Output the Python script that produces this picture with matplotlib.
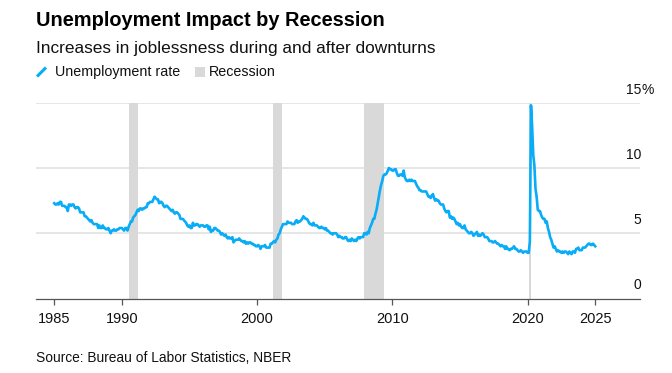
import numpy as np
import matplotlib
matplotlib.use('Agg')
import matplotlib.pyplot as plt
from matplotlib.lines import Line2D
from matplotlib.patches import Rectangle
import matplotlib.transforms as mtransforms

plt.rcParams['font.family'] = ['Liberation Sans', 'DejaVu Sans']

# Monthly unemployment rate (%), Jan 1985 .. Jan 2025
rate_1985_1994 = [
    7.3, 7.2, 7.2, 7.3, 7.2, 7.4, 7.4, 7.1, 7.1, 7.1, 7.0, 7.0,
    6.7, 7.2, 7.2, 7.1, 7.2, 7.2, 7.0, 6.9, 7.0, 7.0, 6.9, 6.6,
    6.6, 6.6, 6.6, 6.3, 6.3, 6.2, 6.1, 6.0, 5.9, 6.0, 5.8, 5.7,
    5.7, 5.7, 5.7, 5.4, 5.6, 5.4, 5.4, 5.6, 5.4, 5.4, 5.3, 5.3,
    5.4, 5.2, 5.0, 5.2, 5.2, 5.3, 5.2, 5.2, 5.3, 5.3, 5.4, 5.4,
    5.4, 5.3, 5.2, 5.4, 5.4, 5.2, 5.5, 5.7, 5.9, 5.9, 6.2, 6.3,
    6.4, 6.6, 6.8, 6.7, 6.9, 6.9, 6.8, 6.9, 6.9, 7.0, 7.0, 7.3,
    7.3, 7.4, 7.4, 7.4, 7.6, 7.8, 7.7, 7.6, 7.6, 7.3, 7.4, 7.4,
    7.3, 7.1, 7.0, 7.1, 7.1, 7.0, 6.9, 6.8, 6.7, 6.8, 6.6, 6.5,
    6.6, 6.6, 6.5, 6.4, 6.1, 6.1, 6.1, 6.0, 5.9, 5.8, 5.6, 5.5,
]
rate_1995_2004 = [
    5.6, 5.4, 5.4, 5.8, 5.6, 5.6, 5.7, 5.7, 5.6, 5.5, 5.6, 5.6,
    5.6, 5.5, 5.5, 5.6, 5.6, 5.3, 5.5, 5.1, 5.2, 5.2, 5.4, 5.4,
    5.3, 5.2, 5.2, 5.1, 4.9, 5.0, 4.9, 4.8, 4.9, 4.7, 4.6, 4.7,
    4.6, 4.6, 4.7, 4.3, 4.4, 4.5, 4.5, 4.5, 4.6, 4.5, 4.4, 4.4,
    4.3, 4.4, 4.2, 4.3, 4.2, 4.3, 4.3, 4.2, 4.2, 4.1, 4.1, 4.0,
    4.0, 4.1, 4.0, 3.8, 4.0, 4.0, 4.0, 4.1, 3.9, 3.9, 3.9, 3.9,
    4.2, 4.2, 4.3, 4.4, 4.3, 4.5, 4.6, 4.9, 5.0, 5.3, 5.5, 5.7,
    5.7, 5.7, 5.7, 5.9, 5.8, 5.8, 5.8, 5.7, 5.7, 5.7, 5.9, 6.0,
    5.8, 5.9, 5.9, 6.0, 6.1, 6.3, 6.2, 6.1, 6.1, 6.0, 5.8, 5.7,
    5.7, 5.6, 5.8, 5.6, 5.6, 5.6, 5.5, 5.4, 5.4, 5.5, 5.4, 5.4,
]
rate_2005_2014 = [
    5.3, 5.4, 5.2, 5.2, 5.1, 5.0, 5.0, 4.9, 5.0, 5.0, 5.0, 4.9,
    4.7, 4.8, 4.7, 4.7, 4.6, 4.6, 4.7, 4.7, 4.5, 4.4, 4.5, 4.4,
    4.6, 4.5, 4.4, 4.5, 4.4, 4.6, 4.7, 4.6, 4.7, 4.7, 4.7, 5.0,
    5.0, 4.9, 5.1, 5.0, 5.4, 5.6, 5.8, 6.1, 6.1, 6.5, 6.8, 7.3,
    7.8, 8.3, 8.7, 9.0, 9.4, 9.5, 9.5, 9.6, 9.8, 10.0, 9.9, 9.9,
    9.8, 9.8, 9.9, 9.9, 9.6, 9.4, 9.4, 9.5, 9.5, 9.4, 9.8, 9.3,
    9.1, 9.0, 9.0, 9.1, 9.0, 9.1, 9.0, 9.0, 9.0, 8.8, 8.6, 8.5,
    8.3, 8.3, 8.2, 8.2, 8.2, 8.2, 8.2, 8.0, 7.8, 7.8, 7.7, 7.9,
    8.0, 7.7, 7.5, 7.6, 7.5, 7.5, 7.3, 7.2, 7.2, 7.2, 6.9, 6.7,
    6.6, 6.7, 6.7, 6.2, 6.3, 6.1, 6.2, 6.1, 5.9, 5.7, 5.8, 5.6,
]
rate_2015_2025 = [
    5.7, 5.5, 5.4, 5.4, 5.6, 5.3, 5.2, 5.1, 5.0, 5.0, 5.1, 5.0,
    4.8, 4.9, 5.0, 5.1, 4.8, 4.9, 4.8, 4.9, 5.0, 4.9, 4.7, 4.7,
    4.7, 4.6, 4.4, 4.4, 4.4, 4.3, 4.3, 4.4, 4.3, 4.2, 4.2, 4.1,
    4.0, 4.1, 4.0, 4.0, 3.8, 4.0, 3.8, 3.8, 3.7, 3.8, 3.8, 3.9,
    4.0, 3.8, 3.8, 3.7, 3.6, 3.6, 3.7, 3.6, 3.5, 3.6, 3.6, 3.6,
    3.5, 3.5, 4.4, 14.8, 13.2, 11.0, 10.2, 8.4, 7.8, 6.8, 6.7, 6.7,
    6.4, 6.2, 6.1, 6.1, 5.8, 5.9, 5.4, 5.1, 4.7, 4.5, 4.2, 3.9,
    4.0, 3.8, 3.6, 3.7, 3.6, 3.6, 3.5, 3.6, 3.5, 3.6, 3.6, 3.5,
    3.4, 3.6, 3.5, 3.4, 3.6, 3.6, 3.5, 3.8, 3.8, 3.9, 3.7, 3.7,
    3.7, 3.9, 3.9, 3.9, 4.0, 4.1, 4.2, 4.2, 4.1, 4.1, 4.2, 4.1,
    4.0,
]
rate = rate_1985_1994 + rate_1995_2004 + rate_2005_2014 + rate_2015_2025
start_year = 1985

# NBER recessions (year, month) start / end
recessions = [((1990, 7), (1991, 3)), ((2001, 3), (2001, 11)),
              ((2007, 12), (2009, 6)), ((2020, 2), (2020, 4))]

x_ticks = [1985, 1990, 2000, 2010, 2020, 2025]
y_ticks = [0, 5, 10, 15]

BLUE = '#08ACF7'
GREY = '#D9D9D9'

def dec(ym):
    return ym[0] + (ym[1] - 1) / 12

months = start_year + np.arange(len(rate)) / 12

fig = plt.figure(figsize=(6.72, 3.73), dpi=100)
W, H = 672, 373
ax = fig.add_axes([36 / W, 1 - 298.5 / H, 604 / W, (298.5 - 102.7) / H])

for s, e in recessions:
    ax.axvspan(dec(s), dec(e), color=GREY, lw=0, zorder=1)

for v in y_ticks[1:]:
    ax.axhline(v, color='#E2E2E2', lw=1.2, zorder=0.5)

ax.plot(months, rate, color=BLUE, lw=1.9, zorder=3, solid_joinstyle='round')

ax.set_xlim(1983.65, 2028.31)
ax.set_ylim(0, 15)
for sp in ['top', 'right', 'left']:
    ax.spines[sp].set_visible(False)
ax.spines['bottom'].set_color('#555555')
ax.spines['bottom'].set_linewidth(0.9)
ax.set_yticks([])
ax.set_xticks(x_ticks)
ax.set_xticklabels([str(t) for t in x_ticks], fontsize=10.5, color='#111111')
ax.tick_params(axis='x', length=4, width=0.9, color='#555555', pad=6)

# right-side value labels sitting above the gridlines
trans = mtransforms.blended_transform_factory(ax.transAxes, ax.transData)
trans = mtransforms.offset_copy(trans, fig=fig, x=0, y=9.5, units='points')
for v in y_ticks:
    ax.text(1.0017, v, str(v), transform=trans, ha='right', va='center',
            fontsize=10, color='#111111')
ax.text(1.0017, 15, '%', transform=trans, ha='left', va='center',
        fontsize=10, color='#111111')

# titles
fig.text(36 / W, 1 - 21 / H, 'Unemployment Impact by Recession', fontsize=14.4,
         fontweight='bold', ha='left', va='center', color='#000000')
fig.text(36 / W, 1 - 48 / H, 'Increases in joblessness during and after downturns',
         fontsize=12.4, ha='left', va='center', color='#111111')

# legend
fig.add_artist(Line2D([37 / W, 46 / W], [1 - 76.5 / H, 1 - 67.5 / H],
                      color=BLUE, lw=2.2, solid_capstyle='butt'))
fig.text(55 / W, 1 - 72 / H, 'Unemployment rate', fontsize=10.3, ha='left',
         va='center', color='#111111')
fig.add_artist(Rectangle((195 / W, 1 - 77 / H), 9.5 / W, 10 / H,
                         color=GREY, lw=0, transform=fig.transFigure))
fig.text(209 / W, 1 - 72 / H, 'Recession', fontsize=10.3, ha='left',
         va='center', color='#111111')

fig.text(36 / W, 1 - 358 / H, 'Source: Bureau of Labor Statistics, NBER',
         fontsize=9.9, ha='left', va='center', color='#111111')

fig.savefig('out.png', dpi=100)
